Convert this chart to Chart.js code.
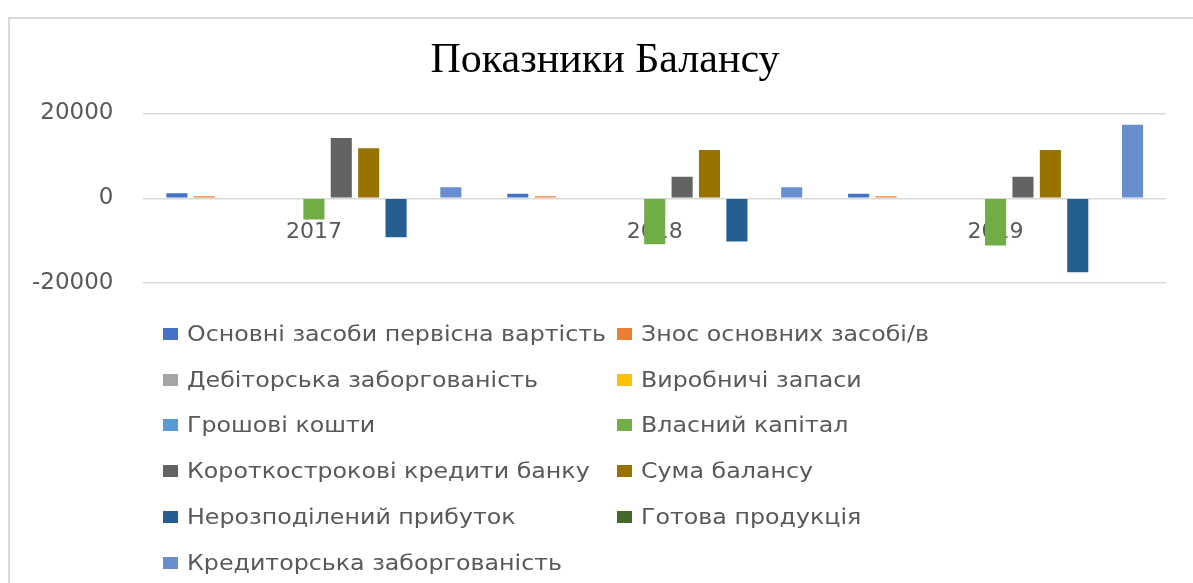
<!DOCTYPE html>
<html lang="uk">
<head>
<meta charset="utf-8">
<title>Показники Балансу</title>
<script src="https://cdn.jsdelivr.net/npm/chart.js@4.4.1/dist/chart.umd.min.js"></script>
<style>
    html, body {
        margin: 0;
        padding: 0;
        background: #ffffff;
        width: 1193px;
        height: 583px;
        overflow: hidden;
    }

    #rama {
        position: absolute;
        left: 8px;
        top: 17px;
        width: 1200px;
        height: 600px;
        border-left: 2px solid #d9d9d9;
        border-top: 2px solid #d9d9d9;
    }

    #grafico-balanso {
        position: absolute;
        left: 0;
        top: 0;
    }

    #legenda {
        position: absolute;
        left: 163px;
        top: 311px;
        display: grid;
        grid-template-columns: 454px 454px;
        grid-auto-rows: 45.8px;
        font-family: 'DejaVu Sans', sans-serif;
        font-size: 21px;
        color: #595959;
    }

    .item {
        display: flex;
        align-items: center;
        white-space: nowrap;
    }

    .quadrado {
        display: inline-block;
        flex: none;
        width: 15px;
        height: 12px;
        margin-right: 9px;
    }

    .texto {
        display: inline-block;
        transform: scaleX(1.13);
        transform-origin: left center;
    }
</style>
</head>
<body>
<div id="rama"></div>
<canvas id="grafico-balanso" width="1193" height="327"></canvas>
<div id="legenda"></div>

<script>
const anos = ['2017', '2018', '2019'];

const series = [
    'Основні засоби первісна вартість',
    'Знос основних засобі/в',
    'Дебіторська заборгованість',
    'Виробничі запаси',
    'Грошові кошти',
    'Власний капітал',
    'Короткострокові кредити банку',
    'Сума балансу',
    'Нерозподілений прибуток',
    'Готова продукція',
    'Кредиторська заборгованість'
];

const osnovniZasoby = [1200, 1100, 1100];
const znos = [500, 480, 480];
const debitorska = [0, 0, 0];
const zapasy = [0, 0, 0];
const groshovi = [0, 0, 0];
const vlasnyiKapital = [-5000, -10800, -11100];
const kredytyBanku = [14200, 5100, 5100];
const sumaBalansu = [11800, 11400, 11400];
const nerozpodilenyi = [-9200, -10200, -17400];
const gotovaProdukcia = [0, 0, 0];
const kredytorska = [2600, 2600, 17300];

const ticksY = [-20000, 0, 20000];

const cores = [
    '#4472C4', '#ED7D31', '#A5A5A5', '#FFC000', '#5B9BD5', '#70AD47',
    '#636363', '#997300', '#255E91', '#43682B', '#698ED0'
];

document.addEventListener('DOMContentLoaded', function () {

    const valores = [
        osnovniZasoby, znos, debitorska, zapasy, groshovi, vlasnyiKapital,
        kredytyBanku, sumaBalansu, nerozpodilenyi, gotovaProdukcia, kredytorska
    ];

    const datasets = series.map((nome, i) => ({
        label: nome,
        data: valores[i],
        backgroundColor: cores[i],
        borderWidth: 0,
        barPercentage: 0.77,
        categoryPercentage: 0.884
    }));

    // titulo um pouco deslocado para a direita, como no Excel
    const moverTitulo = {
        id: 'moverTitulo',
        afterLayout(chart) {
            if (chart.titleBlock) {
                chart.titleBlock.left = 44;
            }
        }
    };

    const ctx = document.getElementById('grafico-balanso').getContext('2d');

    const chart = new Chart(ctx, {
        type: 'bar',
        data: {
            labels: anos,
            datasets: datasets
        },
        plugins: [moverTitulo],
        options: {
            responsive: false,
            animation: false,
            layout: {
                padding: { left: 2, right: 27, top: 0, bottom: 18 }
            },
            scales: {
                x: {
                    position: { y: 0 },
                    afterFit: function (axis) {
                        axis.height = 0;
                    },
                    grid: { display: false, drawTicks: true, tickLength: 21 },
                    border: { display: false },
                    ticks: {
                        padding: 0,
                        color: '#595959',
                        font: { family: 'DejaVu Sans', size: 22 }
                    }
                },
                y: {
                    min: -20000,
                    max: 20000,
                    afterBuildTicks: function (axis) {
                        axis.ticks = ticksY.map(v => ({ value: v }));
                    },
                    grid: { color: '#d9d9d9', lineWidth: 1.5, drawTicks: false },
                    border: { display: false },
                    ticks: {
                        padding: 30,
                        color: '#595959',
                        font: { family: 'DejaVu Sans', size: 23 },
                        callback: v => String(v)
                    }
                }
            },
            plugins: {
                legend: { display: false },
                tooltip: { enabled: false },
                title: {
                    display: true,
                    text: 'Показники Балансу',
                    color: '#000000',
                    font: { family: 'Liberation Serif', size: 42, weight: 'normal' },
                    padding: { top: 36, bottom: 27 }
                }
            }
        }
    });

    // legenda em duas colunas, como no original
    const legenda = document.getElementById('legenda');
    chart.data.datasets.forEach(ds => {
        const item = document.createElement('div');
        item.className = 'item';
        const q = document.createElement('span');
        q.className = 'quadrado';
        q.style.background = ds.backgroundColor;
        const t = document.createElement('span');
        t.className = 'texto';
        t.textContent = ds.label;
        item.appendChild(q);
        item.appendChild(t);
        legenda.appendChild(item);
    });

});
</script>
</body>
</html>
